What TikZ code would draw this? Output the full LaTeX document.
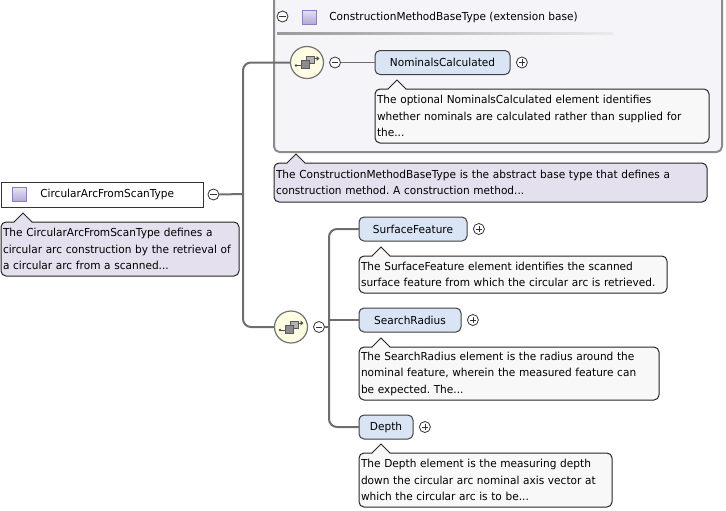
\documentclass[tikz,border=0pt]{standalone}
\usepackage{fontspec}
\setmainfont{DejaVu Sans}[FakeStretch=0.96]
\usepackage{tikz}
\usetikzlibrary{positioning, arrows.meta, shapes.geometric, calc}

\definecolor{xsblue}{HTML}{D9E5F5}
\definecolor{xsdoc}{HTML}{F8F8F8}
\definecolor{xslav}{HTML}{E4E0EE}
\definecolor{xsext}{HTML}{F5F4F9}
\definecolor{xsline}{HTML}{6E6E6E}
\definecolor{xsyellow}{HTML}{FFFDE4}
\definecolor{xsiconA}{HTML}{E6E2F4}
\definecolor{xsiconB}{HTML}{B3A8D6}
\definecolor{xsiconrim}{HTML}{8E7EBE}

\frenchspacing
\hyphenpenalty=10000
\exhyphenpenalty=10000

% callout tip on top of a doc box
\newcommand{\docptr}[2]{%
  \fill[#2] ([xshift=9.75pt,yshift=-0.6pt]#1.north west) -- ([xshift=16.5pt,yshift=6.75pt]#1.north west)
    -- ([xshift=23.25pt,yshift=-0.6pt]#1.north west) -- cycle;
  \draw[black!85, line width=0.75pt] ([xshift=9.75pt]#1.north west) -- ([xshift=16.5pt,yshift=6.75pt]#1.north west)
    -- ([xshift=23.25pt]#1.north west);
}
% sequence compositor glyph
\newcommand{\seqglyph}[1]{%
  \begin{scope}[shift={(#1.center)}]
    \draw[black!70, line width=0.6pt] (-11,3) -- (-6,3);
    \fill[black!70] (-11,3) circle (1.1pt);
    \draw[black!65, fill=black!30, line width=0.5pt] (-1,-6) rectangle (7,1);
    \draw[black!65, fill=black!45, line width=0.5pt] (-6,-2) rectangle (2,6);
    \draw[black!70, line width=0.6pt] (7,-4) -- (10,-4);
    \fill[black!70] (9.5,-6.5) -- (12.5,-4) -- (9.5,-1.5) -- cycle;
  \end{scope}
}

\begin{document}
\begin{tikzpicture}[
  x=0.75pt, y=-0.75pt,
  font=\fontsize{8.25}{12.4}\selectfont,
  typebox/.style={rectangle, draw=black!80, fill=white, line width=0.75pt, outer sep=0pt},
  typeicon/.style={rectangle, draw=xsiconrim, line width=0.75pt, top color=xsiconA,
    bottom color=xsiconB, minimum size=10.5pt, inner sep=0pt},
  elem/.style={rectangle, rounded corners=3.75pt, draw=black!75, fill=xsblue, line width=0.75pt,
    minimum height=18pt, inner sep=0pt, anchor=west, outer sep=0pt},
  doc/.style={rectangle, rounded corners=3.75pt, draw=black!85, fill=xsdoc, line width=0.75pt,
    align=left, anchor=north west, inner xsep=1.5pt, inner ysep=0pt, outer sep=0pt},
  typedoc/.style={doc, fill=xslav},
  pmbase/.style={circle, draw=black!80, fill=white, line width=0.6pt, minimum size=8.25pt, inner sep=0pt},
  pmminus/.style={pmbase, path picture={
    \draw[black!80, line width=0.6pt] ([xshift=-2.3pt]path picture bounding box.center)
      -- ([xshift=2.3pt]path picture bounding box.center);}},
  pmplus/.style={pmbase, path picture={
    \draw[black!80, line width=0.6pt] ([xshift=-2.3pt]path picture bounding box.center)
      -- ([xshift=2.3pt]path picture bounding box.center);
    \draw[black!80, line width=0.6pt] ([yshift=-2.3pt]path picture bounding box.center)
      -- ([yshift=2.3pt]path picture bounding box.center);}},
  seq/.style={ellipse, draw=black!55, fill=xsyellow, line width=0.9pt, minimum width=24.75pt,
    minimum height=24pt, inner sep=0pt},
  conn/.style={draw=xsline, line width=1.5pt, rounded corners=6pt},
  thinconn/.style={draw=xsline, line width=0.75pt},
]
\useasboundingbox (0,0) rectangle (726,511);

% extension base frame
\node[rectangle, rounded corners=4pt, draw=black!45, fill=xsext, line width=1.5pt, anchor=north west,
  minimum width=336pt, minimum height=121.5pt, outer sep=0pt] (ext) at (274,-10) {};
\node[pmminus] (extmin) at (282.5,16.5) {};
\node[typeicon] (exticon) at (309,17) {};
\node[anchor=west, inner sep=0pt] (exttitle) at (329,17) {ConstructionMethodBaseType (extension base)};
\shade[left color=black!40, right color=black!8] (277,32) rectangle (613,34);

% root type
\node[typebox, anchor=north west, minimum width=151.5pt, minimum height=18.75pt] (root) at (1,182) {};
\node[typeicon] (rooticon) at (19,194.5) {};
\node[anchor=west, inner sep=0pt] (rootname) at (40,194.5) {CircularArcFromScanType};
\node[pmminus, right=3.4pt of root] (rootmin) {};
\node[typedoc, minimum width=178.5pt, text width=175.5pt, minimum height=40.5pt] (rootdoc) at (1,222)
  {The CircularArcFromScanType defines a\\circular arc construction by the retrieval of\\a circular arc from a scanned...};
\docptr{rootdoc}{xslav}

% compositors
\node[seq] (seq1) at (307,62.5) {};
\seqglyph{seq1}
\node[pmminus, right=3.75pt of seq1] (seq1min) {};
\node[seq] (seq2) at (291,327) {};
\seqglyph{seq2}
\node[pmminus, right=3.75pt of seq2] (seq2min) {};

% elements
\node[elem, minimum width=101.25pt] (nomcalc) at (375,62.5) {NominalsCalculated};
\node[pmplus, right=4.5pt of nomcalc] (nomcalcplus) {};
\node[doc, minimum width=250.5pt, text width=247.5pt, minimum height=40.5pt] (nomcalcdoc) at (375,89)
  {The optional NominalsCalculated element identifies\\whether nominals are calculated rather than supplied for\\the...};
\docptr{nomcalcdoc}{xsdoc}

\node[typedoc, minimum width=324.75pt, text width=321.75pt, minimum height=29.25pt] (basedoc) at (274,163)
  {The ConstructionMethodBaseType is the abstract base type that defines a\\construction method. A construction method...};
\docptr{basedoc}{xslav}

\node[elem, minimum width=81pt] (surf) at (359,229) {SurfaceFeature};
\node[pmplus, right=4.5pt of surf] (surfplus) {};
\node[doc, minimum width=231pt, text width=228pt, minimum height=27.75pt] (surfdoc) at (359,256)
  {The SurfaceFeature element identifies the scanned\\surface feature from which the circular arc is retrieved.};
\docptr{surfdoc}{xsdoc}

\node[elem, minimum width=76.5pt] (radius) at (359,320) {SearchRadius};
\node[pmplus, right=4.5pt of radius] (radiusplus) {};
\node[doc, minimum width=225pt, text width=222pt, minimum height=39.75pt] (radiusdoc) at (359,347)
  {The SearchRadius element is the radius around the\\nominal feature, wherein the measured feature can\\be expected. The...};
\docptr{radiusdoc}{xsdoc}

\node[elem, minimum width=40.5pt] (depth) at (359,427) {Depth};
\node[pmplus, right=4.5pt of depth] (depthplus) {};
\node[doc, minimum width=189.75pt, text width=186.75pt, minimum height=40.5pt] (depthdoc) at (359,453)
  {The Depth element is the measuring depth\\down the circular arc nominal axis vector at\\which the circular arc is to be...};
\docptr{depthdoc}{xsdoc}

% connectors
\coordinate (trunk1) at (243,194);
\coordinate (trunk2) at (329,327);
\draw[conn] (rootmin.east) -- (trunk1);
\draw[conn] (seq1.west) -| (trunk1) |- (seq2.west);
\draw[thinconn] (seq1min.east) -- (nomcalc.west);
\draw[conn] (seq2min.east) -- (trunk2);
\draw[conn] (surf.west) -| (trunk2) |- (depth.west);
\draw[conn] (radius.west) -- (radius.west -| trunk2);

\end{tikzpicture}
\end{document}
